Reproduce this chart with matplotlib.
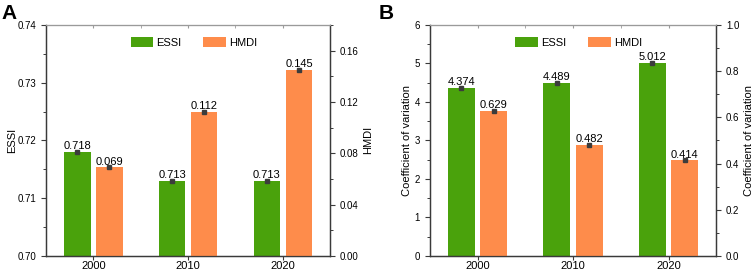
import numpy as np
import matplotlib.pyplot as plt
from matplotlib.ticker import MultipleLocator, FormatStrFormatter

# datos
years = ['2000', '2010', '2020']
essi_mean = [0.718, 0.713, 0.713]
hmdi_mean = [0.069, 0.112, 0.145]
essi_cv = [4.374, 4.489, 5.012]
hmdi_cv = [0.629, 0.482, 0.414]

GREEN = '#4aa20c'
ORANGE = '#fe8c4b'
SPINE = '#3a3a3a'

plt.rcParams['font.family'] = ['Liberation Sans', 'DejaVu Sans']

fig = plt.figure(figsize=(7.54, 2.74), dpi=100)


def panel(rect, left_vals, right_vals, left_lim, right_lim, left_step, right_step,
          left_tick_fmt, right_tick_fmt, left_label, right_label, letter, letter_x, lpad):
    ax = fig.add_axes(rect)
    ax2 = ax.twinx()
    x = np.arange(len(years))
    w = 0.28
    off = 0.17

    b1 = ax.bar(x - off, left_vals, w, color=GREEN, label='ESSI', zorder=2)
    b2 = ax2.bar(x + off, right_vals, w, color=ORANGE, label='HMDI', zorder=2)
    ax.errorbar(x - off, left_vals, fmt='s', ms=3, color='#3c3c3c', zorder=3)
    ax2.errorbar(x + off, right_vals, fmt='s', ms=3, color='#3c3c3c', zorder=3)

    for xi, v in zip(x - off, left_vals):
        ax.annotate('{:.3f}'.format(v), (xi, v), xytext=(0, 0.5), textcoords='offset points',
                    ha='center', va='bottom', fontsize=8)
    for xi, v in zip(x + off, right_vals):
        ax2.annotate('{:.3f}'.format(v), (xi, v), xytext=(0, 0.5), textcoords='offset points',
                     ha='center', va='bottom', fontsize=8)

    ax.set_xlim(-0.5, 2.5)
    ax.set_ylim(*left_lim)
    ax2.set_ylim(*right_lim)
    ax.set_xticks(x)
    ax.set_xticklabels(years)
    ax.yaxis.set_major_locator(MultipleLocator(left_step))
    ax.yaxis.set_minor_locator(MultipleLocator(left_step / 2))
    ax2.yaxis.set_major_locator(MultipleLocator(right_step))
    ax2.yaxis.set_minor_locator(MultipleLocator(right_step / 2))
    ax.yaxis.set_major_formatter(FormatStrFormatter(left_tick_fmt))
    ax2.yaxis.set_major_formatter(FormatStrFormatter(right_tick_fmt))

    for a in (ax, ax2):
        for s in ['left', 'right', 'bottom']:
            a.spines[s].set_color(SPINE)
            a.spines[s].set_linewidth(0.9)
        a.spines['top'].set_color('#9a9a9a')
        a.spines['top'].set_linewidth(0.8)
        a.tick_params(which='both', direction='out', colors=SPINE, labelcolor='black', labelsize=7)
        a.tick_params(which='major', length=3.5, width=0.8)
        a.tick_params(which='minor', length=2, width=0.7)
    ax.tick_params(axis='x', labelsize=8, pad=1, length=3)

    top = ax.secondary_xaxis('top')
    top.set_xticks(x)
    top.set_xticks(x[:-1] + 0.5, minor=True)
    top.tick_params(which='both', direction='in', length=2.5, colors='#9a9a9a', labeltop=False)
    top.spines['top'].set_color('#9a9a9a')

    ax.set_ylabel(left_label, fontsize=8, labelpad=lpad)
    ax2.set_ylabel(right_label, fontsize=8, labelpad=3)

    ax.legend([b1, b2], ['ESSI', 'HMDI'], loc='upper center', ncol=2, frameon=False,
              fontsize=8, handlelength=2.0, handleheight=1.0, handletextpad=0.3,
              columnspacing=2.0, bbox_to_anchor=(0.52, 0.99))
    fig.text(letter_x, 0.985, letter, fontsize=15, fontweight='bold', va='top', ha='left')


panel([0.061, 0.066, 0.377, 0.843], essi_mean, hmdi_mean, (0.70, 0.74), (0.0, 0.18),
      0.01, 0.04, '%.2f', '%.2f', 'ESSI', 'HMDI', 'A', 0.002, 0.5)

panel([0.570, 0.066, 0.380, 0.843], essi_cv, hmdi_cv, (0, 6), (0.0, 1.0),
      1, 0.2, '%d', '%.1f', 'Coefficient of variation', 'Coefficient of variation', 'B', 0.502, 2)

fig.savefig('out.png', dpi=100)
